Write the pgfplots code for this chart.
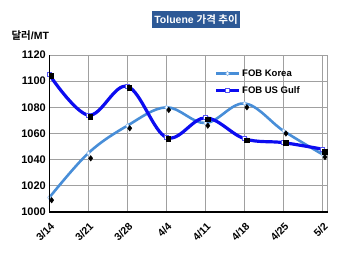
\documentclass[border=0pt]{standalone}
\usepackage{fontspec}
\setmainfont{Liberation Sans}
\newfontfamily\kr{Noto Sans CJK KR}[BoldFont={Noto Sans CJK KR Bold}]
\usepackage{pgfplots}
\pgfplotsset{compat=1.18}
\definecolor{korea}{RGB}{72,142,216}
\definecolor{gulf}{RGB}{12,12,240}
\definecolor{titlebg}{RGB}{45,89,150}
\definecolor{gridc}{RGB}{160,160,160}
\begin{document}
\begin{tikzpicture}
\useasboundingbox (0,0) rectangle (350pt,258pt);
\node[fill=titlebg, text=white, font=\fontsize{10.5}{12}\selectfont\bfseries, inner xsep=2.5pt, inner ysep=2pt, minimum height=17pt] at (196pt,238.5pt) {Toluene {\kr 가격 추이}};
\node[anchor=west, font=\fontsize{10.5}{12}\selectfont\bfseries] at (8pt,222pt) {{\kr 달러}/MT};
\begin{axis}[
  at={(49.3pt,46pt)}, anchor=south west,
  scale only axis, width=278.4pt, height=157pt,
  xmin=0, xmax=7.13, ymin=1000, ymax=1120,
  xtick={0,...,7},
  xticklabels={3/14,3/21,3/28,4/4,4/11,4/18,4/25,5/2},
  ytick={1000,1020,...,1120},
  /pgf/number format/assume math mode=true,
  /pgf/number format/set thousands separator={},
  ticklabel style={font=\fontsize{11}{13}\selectfont\bfseries},
  xticklabel style={xshift=4pt, yshift=-12pt, rotate=45, anchor=east, inner sep=1pt, font=\fontsize{10.5}{12}\selectfont\bfseries},
  major tick length=0pt,
  grid=major,
  major grid style={gridc, line width=1pt},
  axis line style={gridc, line width=1pt},
  legend style={draw=none, fill=none, at={(0.583,0.935)}, anchor=north west,
    font=\fontsize{9.5}{11}\selectfont\bfseries, row sep=5pt,
    /tikz/every even column/.append style={column sep=1pt}},
  legend cell align=left,
  legend image code/.code={\draw[mark repeat=2,mark phase=2] plot coordinates {(0cm,0cm) (0.39cm,0cm) (0.78cm,0cm)};},
  after end axis/.code={\draw[black, line width=1.6pt] (rel axis cs:0,1) -- (rel axis cs:0,0) -- (rel axis cs:1,0);},
]
\addplot[korea, line width=2.6pt, smooth, tension=0.6, mark=diamond*, mark size=2.2pt, mark options={fill=white, draw=korea!60, line width=0.6pt}] coordinates {
(0,1011) (1,1045) (2,1066) (3,1080) (4,1068) (5,1083) (6,1062) (7,1044)};
\addlegendentry{FOB Korea}
\addplot[gulf, line width=3.2pt, smooth, tension=0.6, mark=square*, mark size=2pt, mark options={fill=white, draw=gulf!70, line width=0.8pt}] coordinates {
(0,1105) (1,1074) (2,1096) (3,1057) (4,1072) (5,1056) (6,1053) (7,1048)};
\addlegendentry{FOB US Gulf}
\addplot[only marks, black, mark=diamond*, mark size=2.8pt, forget plot] coordinates {
(0.06,1009) (1.06,1041) (2.06,1064) (3.06,1078) (4.06,1066) (5.06,1080) (6.06,1060) (7.06,1042)};
\addplot[only marks, black, mark=square*, mark size=2.3pt, forget plot] coordinates {
(0.05,1104) (1.05,1073) (2.05,1095) (3.05,1056) (4.05,1071) (5.05,1055) (6.05,1053) (7.05,1046)};
\end{axis}
\end{tikzpicture}
\end{document}
